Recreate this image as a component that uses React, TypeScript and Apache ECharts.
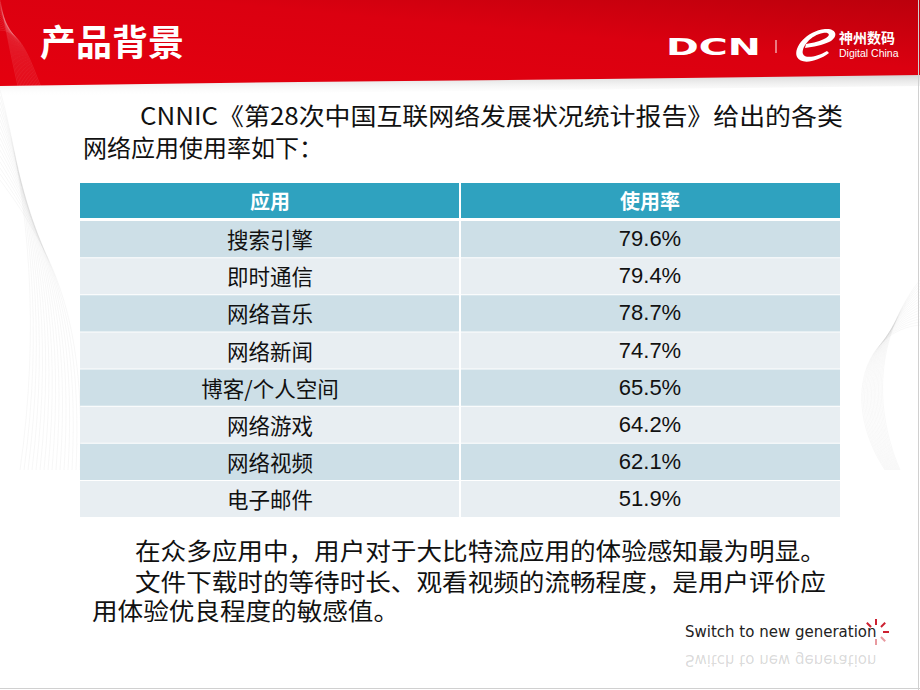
import React, { useEffect, useRef } from 'react';
import * as echarts from 'echarts';

const pageTitle = '产品背景';
const introLines = ['CNNIC《第28次中国互联网络发展状况统计报告》给出的各类', '网络应用使用率如下：'];
const headers = ['应用', '使用率'];
const apps = ['搜索引擎', '即时通信', '网络音乐', '网络新闻', '博客/个人空间', '网络游戏', '网络视频', '电子邮件'];
const rates = [79.6, 79.4, 78.7, 74.7, 65.5, 64.2, 62.1, 51.9];
const closingLines = [
  '在众多应用中，用户对于大比特流应用的体验感知最为明显。',
  '文件下载时的等待时长、观看视频的流畅程度，是用户评价应',
  '用体验优良程度的敏感值。',
];
const brandCn = '神州数码';
const brandEn = 'Digital China';
const slogan = 'Switch to new generation';

const rowCats = ['header', ...apps];
const cells: number[][] = [];
rowCats.forEach((_, r) => headers.forEach((__, c) => cells.push([c, r])));

const swooshD =
  'M 4 30 C 0 20, 14 4, 32 2 C 44 1, 46 10, 36 15 C 30 18, 20 20, 12 21 L 13 17 C 20 16, 28 14, 33 11 C 38 8, 36 5, 30 6 C 18 8, 8 20, 10 27 C 12 32, 24 30, 34 24 L 36 26 C 24 35, 8 38, 4 30 Z';
let registered = false;

export default function App() {
  const ref = useRef<HTMLDivElement>(null);
  useEffect(() => {
    document.body.style.margin = '0';
    if (!registered) {
      echarts.graphic.registerShape('swoosh', echarts.graphic.extendPath(swooshD, {}) as any);
      registered = true;
    }
    const chart = echarts.init(ref.current!, null, { renderer: 'svg' });
    const cjk = '"Noto Sans CJK SC", "Noto Sans", sans-serif';

    const decoBody: any[] = [];
    const decoRed: any[] = [];
    for (let i = 0; i < 16; i++) {
      decoBody.push({
        type: 'bezierCurve',
        shape: { x1: 0, y1: 90 + i * 6, cpx1: 30 + i * 2, cpy1: 200 + i * 4, cpx2: 40 + i * 3, cpy2: 330, x2: 20 + i * 4, y2: 470 },
        style: { stroke: 'rgba(120,120,120,0.06)', lineWidth: 1, fill: null },
        silent: true,
      });
      decoBody.push({
        type: 'bezierCurve',
        shape: { x1: 920, y1: 280 + i * 3, cpx1: 880 - i, cpy1: 330, cpx2: 870 - i * 2, cpy2: 400, x2: 900 - i, y2: 470 },
        style: { stroke: 'rgba(120,120,120,0.05)', lineWidth: 1, fill: null },
        silent: true,
      });
      decoRed.push({
        type: 'bezierCurve',
        shape: { x1: 0, y1: 0 + i * 2, cpx1: 6 + i, cpy1: 30, cpx2: 12 + i * 1.2, cpy2: 60, x2: 18 + i * 1.5, y2: 86 },
        style: { stroke: 'rgba(255,255,255,0.10)', lineWidth: 1, fill: null },
        silent: true,
        z: 3,
      });
    }

    const burst: any[] = [];
    const bcx = 876, bcy = 632;
    [135, 90, 45, 0, -45, -90].forEach((deg, k) => {
      const a = (deg * Math.PI) / 180;
      burst.push({
        type: 'line',
        z: 6,
        shape: { x1: bcx + 7 * Math.cos(a), y1: bcy - 7 * Math.sin(a), x2: bcx + 13 * Math.cos(a), y2: bcy - 13 * Math.sin(a) },
        style: { stroke: k < 4 ? '#cc2030' : '#e89aa0', lineWidth: 2 },
      });
    });

    const txt = (text: string, x: number, y: number, font: string, fill: string, extra: any = {}) => ({
      type: 'text', x, y, z: 5, ...extra,
      style: { text, x: 0, y: 0, textVerticalAlign: 'middle', verticalAlign: 'middle', font, fill, ...(extra.style || {}) },
    });

    const option: any = {
      animation: false,
      backgroundColor: '#ffffff',
      grid: { left: 80, top: 183, width: 760, height: 334 },
      xAxis: { type: 'category', data: headers, show: false },
      yAxis: { type: 'category', data: rowCats, inverse: true, show: false },
      graphic: [
        ...decoBody,
        {
          type: 'polygon',
          shape: { points: [[0, 82], [920, 72], [920, 86], [0, 96]] },
          style: {
            fill: { type: 'linear', x: 0, y: 0, x2: 0, y2: 1, colorStops: [{ offset: 0, color: '#c8c8c8' }, { offset: 1, color: 'rgba(255,255,255,0)' }] },
          },
          z: 1,
        },
        {
          type: 'polygon',
          shape: { points: [[0, 0], [920, 0], [920, 75], [600, 79], [300, 82], [0, 86]] },
          style: {
            fill: {
              type: 'linear', x: 0, y: 1, x2: 1, y2: 0,
              colorStops: [{ offset: 0, color: '#e4000f' }, { offset: 0.6, color: '#db0010' }, { offset: 1, color: '#bb000c' }],
            },
          },
          z: 2,
        },
        ...decoRed,
        txt(pageTitle, 40, 40, `bold 36px ${cjk}`, '#ffffff'),
        txt('DCN', 666, 47, 'bold 23px "DejaVu Sans"', '#ffffff', { scaleX: 1.72 }),
        { type: 'line', z: 5, shape: { x1: 776, y1: 40, x2: 776, y2: 53 }, style: { stroke: '#ffffff', lineWidth: 1.2, opacity: 0.8 } },
        { type: 'swoosh', x: 793, y: 27, scaleX: 1.0, scaleY: 1.0, z: 5, style: { fill: '#ffffff' } },
        txt(brandCn, 839, 37, `bold 14px ${cjk}`, '#ffffff'),
        txt(brandEn, 839, 53, '10.5px "Liberation Sans"', '#ffffff'),
        txt(introLines[0], 140, 114, `24px ${cjk}`, '#111111', { scaleX: 1.08 }),
        txt(introLines[1], 83, 146, `24px ${cjk}`, '#111111'),
        ...closingLines.map((t, i) => txt(t, i < 2 ? 135 : 92, [549, 580, 609][i], `24px ${cjk}`, '#111111', { scaleX: 1.067 })),
        txt(slogan, 685, 632, '15px "Comic Sans MS", "DejaVu Sans"', '#222222'),
        txt(slogan, 685, 660, '15px "Comic Sans MS", "DejaVu Sans"', '#222222', { scaleY: -1, style: { opacity: 0.18 } }),
        ...burst,
        { type: 'line', z: 7, shape: { x1: 918.5, y1: 0, x2: 918.5, y2: 690 }, style: { stroke: '#d0d0d0', lineWidth: 1 } },
        { type: 'line', z: 7, shape: { x1: 0, y1: 688.5, x2: 920, y2: 688.5 }, style: { stroke: '#d0d0d0', lineWidth: 1 } },
      ],
      series: [
        {
          type: 'custom',
          coordinateSystem: 'cartesian2d',
          data: cells,
          z: 10,
          renderItem: (params: any, api: any) => {
            const c = api.value(0);
            const r = api.value(1);
            const pt = api.coord([c, r]);
            const sz = api.size([1, 1]);
            const x0 = pt[0] - sz[0] / 2 + (c === 1 ? 1 : 0);
            const y0 = pt[1] - sz[1] / 2 + (r === 0 ? 0 : 1);
            const w = sz[0] - 1;
            const h = sz[1] - (r === 0 ? 2 : 1);
            const fill = r === 0 ? '#2fa2bf' : r % 2 === 1 ? '#cddfe7' : '#e8eef2';
            let text: string;
            let font: string;
            let color = '#111111';
            if (r === 0) {
              text = headers[c];
              font = `bold 20px ${cjk}`;
              color = '#ffffff';
            } else if (c === 0) {
              text = apps[r - 1];
              font = `21.5px ${cjk}`;
            } else {
              text = rates[r - 1].toFixed(1) + '%';
              font = '22px "Liberation Sans"';
            }
            return {
              type: 'group',
              children: [
                { type: 'rect', shape: { x: x0, y: y0, width: w, height: h }, style: { fill } },
                {
                  type: 'text',
                  style: {
                    text, x: pt[0], y: pt[1] + (r === 0 ? -1 : 0),
                    textAlign: 'center', textVerticalAlign: 'middle', align: 'center', verticalAlign: 'middle',
                    font, fill: color,
                  },
                },
              ],
            };
          },
        },
      ],
    };
    chart.setOption(option);
    return () => chart.dispose();
  }, []);
  return <div ref={ref} style={{ position: 'fixed', left: 0, top: 0, width: 920, height: 690 }} />;
}
